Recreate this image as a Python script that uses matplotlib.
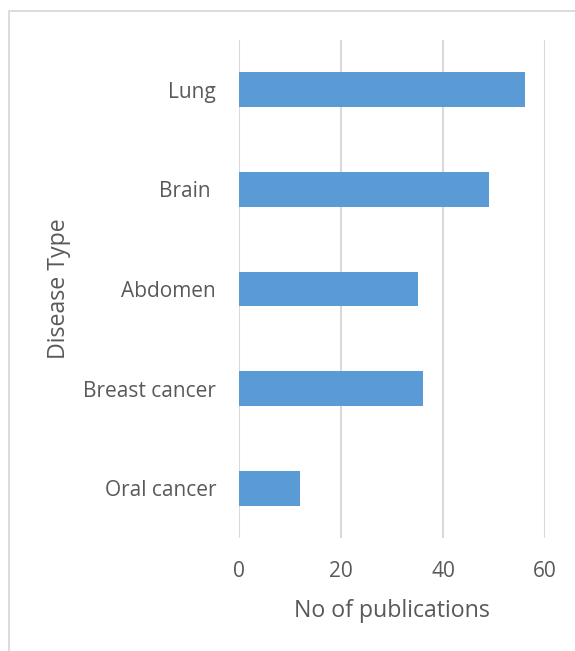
import matplotlib
matplotlib.use("Agg")
import matplotlib.pyplot as plt
from matplotlib.patches import Rectangle

categories = ["Lung", "Brain ", "Abdomen", "Breast cancer", "Oral cancer"]
publications = [56, 49, 35, 36, 12]
x_ticks = [0, 20, 40, 60]

W, H = 575, 651
fig = plt.figure(figsize=(W / 100, H / 100), dpi=100)
plt.rcParams["font.family"] = ["Open Sans", "DejaVu Sans"]
text_color = "#595959"

# outer chart frame
fig.patches.append(Rectangle((9 / W, -0.1), 1.2, (H - 11) / H + 0.1,
                             transform=fig.transFigure, fill=False,
                             edgecolor="#D9D9D9", linewidth=1.3))

ax = fig.add_axes([239 / W, (H - 538) / H, (545 - 239) / W, (538 - 40) / H])
ypos = list(range(len(categories)))
ax.barh(ypos, publications, height=0.35, color="#5B9BD5", zorder=3)
ax.set_ylim(len(categories) - 0.5, -0.5)
ax.set_xlim(0, 60)
ax.set_xticks(x_ticks)
ax.set_xticklabels([str(t) for t in x_ticks])
ax.set_yticks(ypos)
ax.set_yticklabels(categories)
ax.grid(axis="x", color="#D9D9D9", linewidth=1.5, zorder=0)
for s in ax.spines.values():
    s.set_visible(False)
ax.tick_params(axis="both", length=0, labelsize=15, colors=text_color)
ax.tick_params(axis="x", pad=16.5)
ax.tick_params(axis="y", pad=16.5)
ax.set_xlabel("No of publications", fontsize=16.7, color=text_color, labelpad=12)
ax.set_ylabel("Disease Type", fontsize=16.7, color=text_color, labelpad=9)

fig.savefig("out.png", dpi=100, facecolor="white")
